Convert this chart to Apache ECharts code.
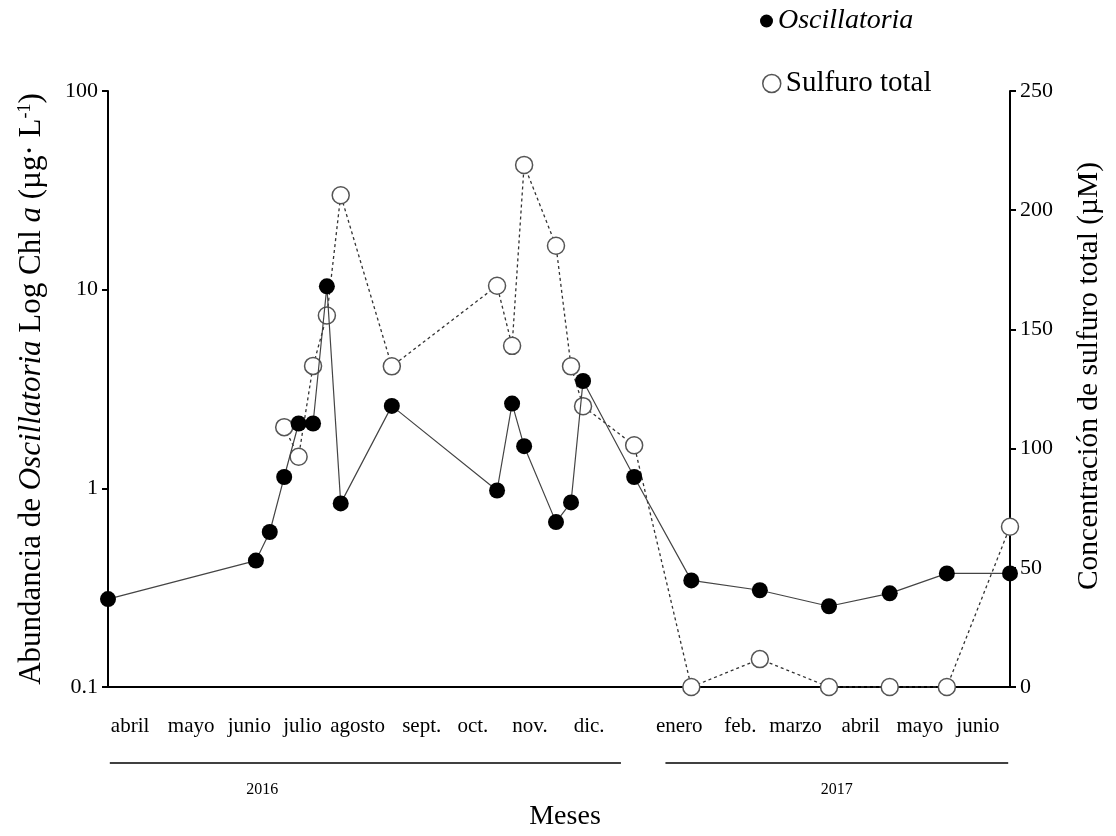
<!DOCTYPE html>
<html>
<head>
<meta charset="utf-8">
<title>Oscillatoria y sulfuro total</title>
<script src="https://cdn.jsdelivr.net/npm/echarts@6/dist/echarts.min.js"></script>
<style>
  html, body { margin: 0; padding: 0; background: #fff; }
  #chart { width: 1116px; height: 836px; }
</style>
</head>
<body>
<div id="chart"></div>
<script>
// Month labels (April 2016 – June 2017), one band per month
const meses = ['abril', 'mayo', 'junio', 'julio', 'agosto', 'sept.', 'oct.', 'nov.', 'dic.',
               'enero', 'feb.', 'marzo', 'abril', 'mayo', 'junio'];

// Sampling dates, in months elapsed since 1 April 2016
const fechas = [0, 2.46, 2.69, 2.93, 3.17, 3.41, 3.64, 3.87, 4.72, 6.47, 6.72, 6.92,
                7.45, 7.70, 7.90, 8.75, 9.70, 10.84, 11.99, 13.0, 13.95, 15];

// Oscillatoria abundance, Chl a (µg·L-1), log scale
const oscillatoria = [0.277, 0.433, 0.603, 1.14, 2.12, 2.12, 10.4, 0.84, 2.6, 0.975, 2.67, 1.63,
                      0.676, 0.849, 3.47, 1.14, 0.344, 0.307, 0.255, 0.296, 0.373, 0.373];

// Total sulfide (µM); null where not measured
const sulfuro = [null, null, null, 109, 96.6, 134.7, 155.8, 206.3, 134.5, 168.3, 143.1, 219,
                 185.1, 134.5, 117.8, 101.4, 0, 11.7, 0, 0, 0, 67.2];

// Left and right axis tick values
const ticksChl = [0.1, 1, 10, 100];
const ticksSulfuro = [0, 50, 100, 150, 200, 250];

const anios = ['2016', '2017'];

const FONT = "'Liberation Serif', 'Times New Roman', serif";

// Horizontal nudge (px) of each month label within its band
const ajusteMes = [-8, -7, -9, -16, -21, -17, -26, -29, -30, 0, 1, -4, 1, 0, -2];

const richMeses = {};
ajusteMes.forEach((d, i) => {
  richMeses['m' + i] = {
    fontFamily: FONT, fontSize: 21, color: '#000',
    padding: d < 0 ? [0, -2 * d, 0, 0] : [0, 0, 0, 2 * d]
  };
});

const chart = echarts.init(document.getElementById('chart'), null, { renderer: 'canvas' });

const pares = (xs, ys) => xs.map((x, i) => [x, ys[i]]).filter(p => p[1] !== null);

const legendBase = {
  orient: 'vertical',
  icon: 'circle',
  textStyle: { fontFamily: FONT, fontSize: 28, color: '#000' }
};

const option = {
  animation: false,
  backgroundColor: '#fff',
  grid: { left: 108, right: 106, top: 91, bottom: 141, containLabel: false },
  legend: [
    Object.assign({}, legendBase, {
      left: 755, top: 2, itemWidth: 13, itemHeight: 13, itemGap: 5,
      data: [{ name: 'Oscillatoria', textStyle: { fontStyle: 'italic' },
               itemStyle: { color: '#000', borderWidth: 0 } }]
    }),
    Object.assign({}, legendBase, {
      left: 757, top: 64, itemWidth: 18, itemHeight: 18, itemGap: 5,
      textStyle: { fontFamily: FONT, fontSize: 29, color: '#000' },
      data: [{ name: 'Sulfuro total',
               itemStyle: { color: '#fff', borderColor: '#555', borderWidth: 1.5 } }]
    })
  ],
  xAxis: [
    { // value axis that places the samples in time
      type: 'value', min: 0, max: 15, show: false, position: 'bottom'
    },
    { // month bands: ticks at month boundaries, labels inside each month
      type: 'category', data: meses, boundaryGap: true, position: 'bottom',
      name: 'Meses', nameLocation: 'middle', nameGap: 116,
      nameTextStyle: { fontFamily: FONT, fontSize: 28, color: '#000', padding: [0, 0, 0, 12] },
      axisLine: { lineStyle: { color: '#000', width: 2 } },
      axisTick: { alignWithLabel: false, length: 5, lineStyle: { color: '#000', width: 2 } },
      axisLabel: { fontFamily: FONT, fontSize: 21, color: '#000', margin: 29, interval: 0,
                   formatter: (v, i) => '{m' + i + '|' + meses[i] + '}', rich: richMeses },
      splitLine: { show: false }
    }
  ],
  yAxis: [
    {
      type: 'log', logBase: 10, min: ticksChl[0], max: ticksChl[ticksChl.length - 1],
      position: 'left',
      name: '{n|Abundancia de }{i|Oscillatoria}{n| Log Chl }{i|a}{n| (µg· L}{s|-1}{n|)}',
      nameLocation: 'middle', nameRotate: 90, nameGap: 60,
      nameTextStyle: {
        fontFamily: FONT, fontSize: 31, color: '#000',
        rich: {
          n: { fontFamily: FONT, fontSize: 31, color: '#000', lineHeight: 32 },
          i: { fontFamily: FONT, fontSize: 31, fontStyle: 'italic', color: '#000', lineHeight: 32 },
          s: { fontFamily: FONT, fontSize: 18, color: '#000', verticalAlign: 'top', lineHeight: 32 }
        }
      },
      axisLine: { show: true, lineStyle: { color: '#000', width: 2 } },
      axisTick: { show: true, length: 6, lineStyle: { color: '#000', width: 2 } },
      minorTick: { show: false },
      axisLabel: { fontFamily: FONT, fontSize: 22, color: '#000', margin: 10,
                   formatter: v => String(Math.round(v * 10) / 10) },
      splitLine: { show: false }
    },
    {
      type: 'value', min: ticksSulfuro[0], max: ticksSulfuro[ticksSulfuro.length - 1],
      interval: ticksSulfuro[1] - ticksSulfuro[0],
      position: 'right',
      name: 'Concentración de sulfuro total (µM)',
      nameLocation: 'middle', nameRotate: 90, nameGap: 64,
      nameTextStyle: { fontFamily: FONT, fontSize: 29.5, color: '#000', padding: [0, 0, 0, 26] },
      axisLine: { show: true, lineStyle: { color: '#000', width: 2 } },
      axisTick: { show: true, length: 6, lineStyle: { color: '#000', width: 2 } },
      axisLabel: { fontFamily: FONT, fontSize: 22, color: '#000', margin: 10 },
      splitLine: { show: false }
    }
  ],
  series: [
    {
      name: 'Sulfuro total',
      type: 'line',
      xAxisIndex: 0, yAxisIndex: 1,
      data: pares(fechas, sulfuro),
      symbol: 'circle', symbolSize: 17,
      itemStyle: { color: '#fff', borderColor: '#555', borderWidth: 1.5 },
      lineStyle: { color: '#333', width: 1.3, type: [3, 3] },
      z: 2
    },
    {
      name: 'Oscillatoria',
      type: 'line',
      xAxisIndex: 0, yAxisIndex: 0,
      data: pares(fechas, oscillatoria),
      symbol: 'circle', symbolSize: 16,
      itemStyle: { color: '#000', borderWidth: 0 },
      lineStyle: { color: '#444', width: 1.2 },
      z: 3
    }
  ]
};

chart.setOption(option);

// Year brackets under the month labels, placed from the time axis
const px = m => chart.convertToPixel({ xAxisIndex: 0 }, m);
const yLinea = 763, yAnio = 790;
const tramos = [[0.03, 8.53], [9.27, 14.97]];
chart.setOption({
  graphic: tramos.flatMap((t, k) => [
    { type: 'line', shape: { x1: px(t[0]), y1: yLinea, x2: px(t[1]), y2: yLinea },
      style: { stroke: '#000', lineWidth: 1.5 } },
    { type: 'text', x: (px(t[0]) + px(t[1])) / 2 + (k === 0 ? -103 : 0), y: yAnio,
      style: { text: anios[k], fontFamily: FONT, fontSize: 16, fill: '#000',
               align: 'center', verticalAlign: 'middle' } }
  ])
});
</script>
</body>
</html>
